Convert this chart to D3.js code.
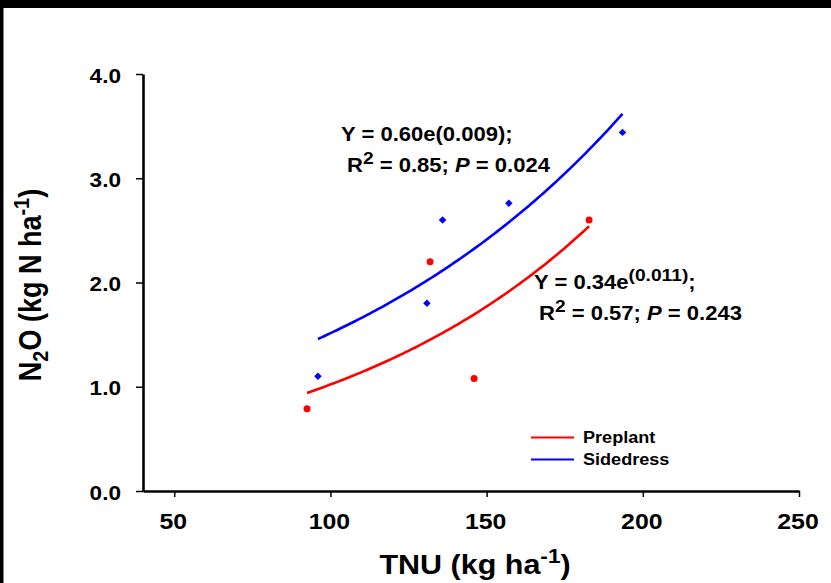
<!DOCTYPE html>
<html>
<head>
<meta charset="utf-8">
<script src="https://cdn.jsdelivr.net/npm/d3@7"></script>
<style>
  html, body { margin: 0; padding: 0; background: #000; }
  svg { display: block; }
  text { font-family: "Liberation Sans", Arial, Helvetica, sans-serif; font-weight: bold; fill: #000; }
</style>
</head>
<body>
<svg id="chart" width="831" height="583"></svg>
<script>
// Observed nitrous oxide emissions against total N uptake
const seriesNames = ["Preplant", "Sidedress"];
const seriesColors = ["#ff0000", "#0000ff"];

const preplantTNU = [92.5, 131.9, 146.0, 182.8];
const preplantN2O = [0.79, 2.20, 1.08, 2.60];

const sidedressTNU = [96.0, 130.9, 135.9, 157.1, 193.5];
const sidedressN2O = [1.10, 1.80, 2.60, 2.76, 3.44];

// Exponential fits Y = a * e^(b * TNU), with fit statistics
const fitA = [0.34, 0.596];
const fitB = [0.011, 0.00932];
const fitR2 = [0.57, 0.85];
const fitP = [0.243, 0.024];

const xTicks = [50, 100, 150, 200, 250];
const yTicks = [0, 1, 2, 3, 4];

// Text in this figure is set slightly wide
const SX = 1.13;

const svg = d3.select("#chart");

// White panel inside the dark frame
svg.append("rect").attr("x", 3.5).attr("y", 8).attr("width", 831).attr("height", 583).attr("fill", "#fff");

const x = d3.scaleLinear().domain([40, 250]).range([143, 799]);
const y = d3.scaleLinear().domain([0, 4]).range([491, 74]);

function wideText(parent, tx, ty, anchor, size) {
  return parent.append("g")
    .attr("transform", `translate(${tx},${ty}) scale(${SX},1)`)
    .append("text")
    .attr("text-anchor", anchor)
    .attr("font-size", size);
}

// Axes
const yAxis = svg.append("g")
  .attr("transform", `translate(${x(40)},0)`)
  .call(d3.axisLeft(y).tickValues(yTicks).tickSize(7).tickSizeOuter(0).tickFormat(d3.format(".1f")));
const xAxis = svg.append("g")
  .attr("transform", `translate(0,${y(0)})`)
  .call(d3.axisBottom(x).tickValues(xTicks).tickSize(6).tickSizeOuter(0));

[yAxis, xAxis].forEach(ax => {
  ax.select(".domain").attr("stroke", "#000").attr("stroke-width", 2.6);
  ax.selectAll(".tick line").attr("stroke", "#000").attr("stroke-width", 1.5);
  ax.selectAll(".tick text").remove();
});

yTicks.forEach(v => {
  wideText(svg, 121, y(v) + 8.5, "end", 20).text(d3.format(".1f")(v));
});
xTicks.forEach(v => {
  wideText(svg, x(v) - 1, 529, "middle", 22).text(v);
});

// Axis titles
const xt = wideText(svg, 475, 574, "middle", 27);
xt.append("tspan").text("TNU (kg ha");
xt.append("tspan").attr("font-size", 20).attr("dy", -11).text("-1");
xt.append("tspan").attr("dy", 11).text(")");

const yt = svg.append("g")
  .attr("transform", `translate(41,285) rotate(-90) scale(1,${SX})`)
  .append("text").attr("text-anchor", "middle").attr("font-size", 27);
yt.append("tspan").text("N");
yt.append("tspan").attr("font-size", 20).attr("dy", 6).text("2");
yt.append("tspan").attr("dy", -6).text("O (kg N ha");
yt.append("tspan").attr("font-size", 20).attr("dy", -11).text("-1");
yt.append("tspan").attr("dy", 11).text(")");

// Fitted curves
const tnuSets = [preplantTNU, sidedressTNU];
const line = d3.line().x(d => x(d[0])).y(d => y(d[1]));

tnuSets.forEach((tnu, i) => {
  const [lo, hi] = d3.extent(tnu);
  const pts = d3.range(0, 101).map(k => {
    const t = lo + (hi - lo) * k / 100;
    return [t, fitA[i] * Math.exp(fitB[i] * t)];
  });
  svg.append("path").datum(pts).attr("d", line)
    .attr("fill", "none").attr("stroke", seriesColors[i]).attr("stroke-width", 2.6);
});

// Observations
svg.append("g").selectAll("circle")
  .data(d3.zip(preplantTNU, preplantN2O)).join("circle")
  .attr("cx", d => x(d[0])).attr("cy", d => y(d[1])).attr("r", 3.5)
  .attr("fill", seriesColors[0]);

const diamond = d3.symbol().type(d3.symbolSquare).size(28);
svg.append("g").selectAll("path")
  .data(d3.zip(sidedressTNU, sidedressN2O)).join("path")
  .attr("d", diamond)
  .attr("transform", d => `translate(${x(d[0])},${y(d[1])}) rotate(45)`)
  .attr("fill", seriesColors[1]);

// Fit equations
const f2 = d3.format(".2f"), f3 = d3.format(".3f");

// Sidedress
let t = wideText(svg, 341, 141, "start", 19.5);
t.text(`Y = ${f2(fitA[1])}e(${f3(fitB[1])});`);
t = wideText(svg, 347, 172, "start", 19.5);
t.append("tspan").text("R");
t.append("tspan").attr("font-size", 17).attr("dy", -8).text("2");
t.append("tspan").attr("dy", 8).text(` = ${f2(fitR2[1])}; `);
t.append("tspan").attr("font-style", "italic").text("P");
t.append("tspan").text(` = ${f3(fitP[1])}`);

// Preplant
t = wideText(svg, 534, 289, "start", 19.5);
t.append("tspan").text(`Y = ${f2(fitA[0])}e`);
t.append("tspan").attr("font-size", 17).attr("dy", -8).text(`(${f3(fitB[0])})`);
t.append("tspan").attr("dy", 8).text(";");
t = wideText(svg, 539, 320, "start", 19.5);
t.append("tspan").text("R");
t.append("tspan").attr("font-size", 17).attr("dy", -8).text("2");
t.append("tspan").attr("dy", 8).text(` = ${f2(fitR2[0])}; `);
t.append("tspan").attr("font-style", "italic").text("P");
t.append("tspan").text(` = ${f3(fitP[0])}`);

// Legend
seriesNames.forEach((name, i) => {
  const ly = 437.5 + i * 22;
  svg.append("line").attr("x1", 531).attr("x2", 574).attr("y1", ly).attr("y2", ly)
    .attr("stroke", seriesColors[i]).attr("stroke-width", 2.2);
  wideText(svg, 583, ly + 5.5, "start", 16).text(name);
});
</script>
</body>
</html>
